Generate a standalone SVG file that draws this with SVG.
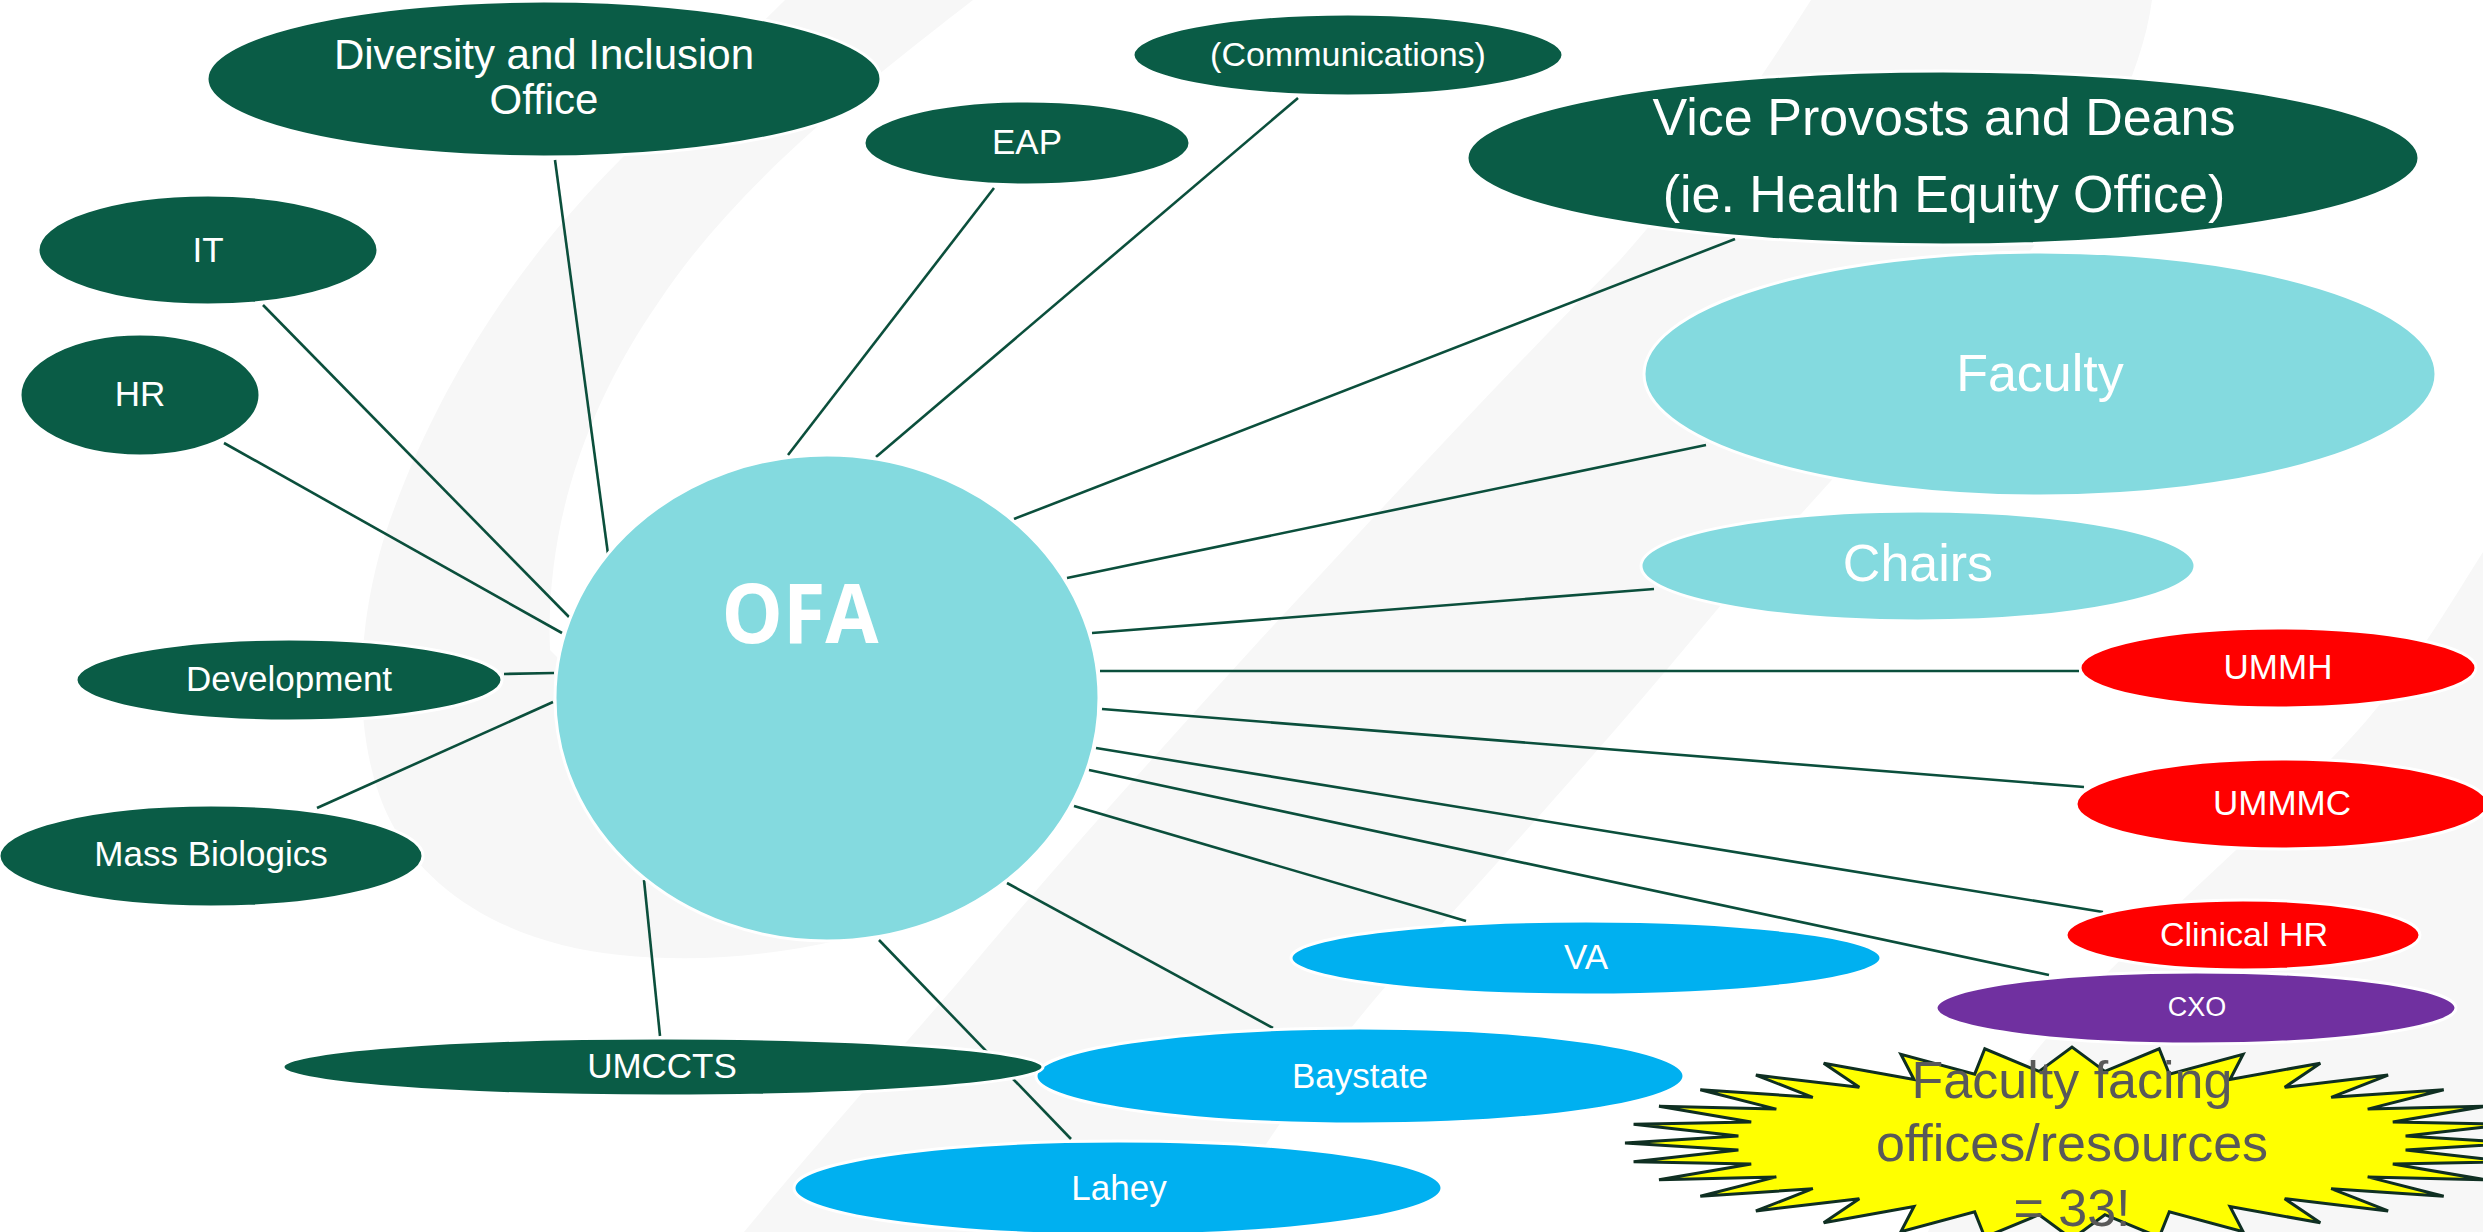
<svg xmlns="http://www.w3.org/2000/svg" width="2483" height="1232" viewBox="0 0 2483 1232">
<style>
.bg{fill:#f7f7f7;stroke:none}
.conn line{stroke:#0b4f3c;stroke-width:2.6}
.n{stroke:#ffffff;stroke-width:3}
.dg{fill:#0a5c46}
.cy{fill:#84dadf}
.rd{fill:#ff0000}
.bl{fill:#00b0f0}
.pu{fill:#7030a0}
text{font-family:"Liberation Sans",Arial,sans-serif;fill:#ffffff;text-anchor:middle}
.s35{font-size:35px}
.s52{font-size:52px}
.star{fill:#ffff00;stroke:#0f2f22;stroke-width:3;stroke-linejoin:miter}
.st{fill:#595959;font-size:52px}
</style>
<rect x="0" y="0" width="2483" height="1232" fill="#ffffff"/>
<g id="background">
<path class="bg" d="M785,0 L973,0 C870,80 740,180 660,300 C590,400 545,520 550,650 L840,940 C760,958 690,962 620,955 C520,945 430,900 390,820 C350,740 355,620 390,520 C440,380 520,260 620,160 C680,100 735,50 785,0 Z"/>
<path class="bg" d="M1811,0 L2152,0 C2140,90 2080,190 2000,290 C1900,410 1800,510 1700,630 C1600,750 1500,860 1400,970 C1320,1060 1260,1150 1210,1232 L744,1232 C820,1140 900,1050 960,980 C1060,860 1160,750 1260,640 C1380,510 1500,380 1620,260 C1700,170 1760,80 1811,0 Z"/>
<path class="bg" d="M2483,552 C2440,620 2400,690 2330,760 C2260,830 2180,900 2100,980 C2020,1060 1960,1150 1928,1232 L2483,1232 Z"/>
</g>
<g id="connectors" class="conn">
<line x1="555" y1="160" x2="608" y2="554"/>
<line x1="263" y1="305" x2="569" y2="617"/>
<line x1="224" y1="443" x2="562" y2="633"/>
<line x1="994" y1="188" x2="788" y2="455"/>
<line x1="1298" y1="98" x2="876" y2="457"/>
<line x1="1735" y1="239" x2="1014" y2="519"/>
<line x1="1706" y1="445" x2="1067" y2="578"/>
<line x1="1654" y1="589" x2="1092" y2="633"/>
<line x1="2079" y1="671" x2="1100" y2="671"/>
<line x1="2084" y1="787" x2="1102" y2="709"/>
<line x1="2103" y1="912" x2="1096" y2="748"/>
<line x1="2049" y1="975" x2="1089" y2="770"/>
<line x1="1466" y1="921" x2="1074" y2="806"/>
<line x1="1273" y1="1028" x2="1007" y2="883"/>
<line x1="1071" y1="1139" x2="879" y2="940"/>
<line x1="660" y1="1036" x2="644" y2="880"/>
<line x1="504" y1="674" x2="554" y2="673"/>
<line x1="317" y1="808" x2="553" y2="702"/>
</g>
<g id="ofa">
<ellipse class="n cy" cx="827" cy="698" rx="272" ry="243"/>
<text x="800" y="643" style="font-family:'Open Sans','Liberation Sans',sans-serif;font-weight:bold;font-size:82px" textLength="157" lengthAdjust="spacingAndGlyphs">OFA</text>
</g>
<g id="diversity">
<ellipse class="n dg" cx="544" cy="79" rx="337" ry="78"/>
<text x="544" y="69" style="font-size:42px">Diversity and Inclusion</text>
<text x="544" y="114" style="font-size:42px">Office</text>
</g>
<g id="communications">
<ellipse class="n dg" cx="1348" cy="55" rx="215" ry="41"/>
<text x="1348" y="66" style="font-size:34px">(Communications)</text>
</g>
<g id="eap">
<ellipse class="n dg" cx="1027" cy="143" rx="163" ry="42"/>
<text class="s35" x="1027" y="154">EAP</text>
</g>
<g id="viceprovosts">
<ellipse class="n dg" cx="1943" cy="158" rx="476" ry="87"/>
<text class="s52" x="1944" y="135">Vice Provosts and Deans</text>
<text class="s52" x="1944" y="212">(ie. Health Equity Office)</text>
</g>
<g id="it">
<ellipse class="n dg" cx="208" cy="250" rx="170" ry="55"/>
<text class="s35" x="208" y="262">IT</text>
</g>
<g id="hr">
<ellipse class="n dg" cx="140" cy="395" rx="120" ry="61"/>
<text class="s35" x="140" y="406">HR</text>
</g>
<g id="development">
<ellipse class="n dg" cx="289" cy="680" rx="213" ry="41"/>
<text class="s35" x="289" y="691">Development</text>
</g>
<g id="massbiologics">
<ellipse class="n dg" cx="211" cy="856" rx="212" ry="51"/>
<text class="s35" x="211" y="866">Mass Biologics</text>
</g>
<g id="faculty">
<ellipse class="n cy" cx="2040" cy="374" rx="396" ry="122"/>
<text class="s52" x="2040" y="391">Faculty</text>
</g>
<g id="chairs">
<ellipse class="n cy" cx="1918" cy="566" rx="277" ry="55"/>
<text class="s52" x="1918" y="581">Chairs</text>
</g>
<g id="ummh">
<ellipse class="n rd" cx="2278" cy="668" rx="198" ry="40"/>
<text class="s35" x="2278" y="679">UMMH</text>
</g>
<g id="ummmc">
<ellipse class="n rd" cx="2282" cy="804" rx="206" ry="45"/>
<text class="s35" x="2282" y="815">UMMMC</text>
</g>
<g id="clinicalhr">
<ellipse class="n rd" cx="2243" cy="935" rx="177" ry="35"/>
<text x="2244" y="946" style="font-size:34px">Clinical HR</text>
</g>
<g id="cxo">
<ellipse class="n pu" cx="2196" cy="1008" rx="260" ry="36"/>
<text x="2197" y="1016" style="font-size:27px">CXO</text>
</g>
<g id="va">
<ellipse class="n bl" cx="1586" cy="958" rx="295" ry="37"/>
<text class="s35" x="1586" y="969">VA</text>
</g>
<g id="baystate">
<ellipse class="n bl" cx="1360" cy="1076" rx="324" ry="48"/>
<text class="s35" x="1360" y="1088">Baystate</text>
</g>
<g id="lahey">
<ellipse class="n bl" cx="1118" cy="1188" rx="324" ry="47"/>
<text class="s35" x="1119" y="1200">Lahey</text>
</g>
<g id="umccts">
<ellipse class="n dg" cx="663" cy="1067" rx="380" ry="29"/>
<text class="s35" x="662" y="1078">UMCCTS</text>
</g>
<g id="starburst">
<polygon class="star" points="2519,1143 2405.6,1135.9 2510.4,1124.3 2392.8,1122.1 2485,1106.3 2367.7,1109.1 2443.7,1089.7 2331.2,1097.3 2388.1,1075.1 2284.7,1087.3 2320.3,1063.2 2230,1079.5 2243.1,1054.3 2169.3,1074.1 2159.2,1048.8 2104.9,1071.4 2072,1047 2039.1,1071.4 1984.8,1048.8 1974.7,1074.1 1900.9,1054.3 1914,1079.5 1823.7,1063.2 1859.3,1087.3 1755.9,1075.1 1812.8,1097.3 1700.3,1089.7 1776.3,1109.1 1659,1106.3 1751.2,1122.1 1633.6,1124.3 1738.4,1135.9 1625,1143 1738.4,1150.1 1633.6,1161.7 1751.2,1163.9 1659,1179.7 1776.3,1176.9 1700.3,1196.3 1812.8,1188.7 1755.9,1210.9 1859.3,1198.7 1823.7,1222.8 1914,1206.5 1900.9,1231.7 1974.7,1211.9 1984.8,1237.2 2039.1,1214.7 2072,1239 2104.9,1214.7 2159.2,1237.2 2169.3,1211.9 2243.1,1231.7 2230,1206.5 2320.3,1222.8 2284.7,1198.7 2388.1,1210.9 2331.2,1188.7 2443.7,1196.3 2367.7,1176.9 2485,1179.7 2392.8,1163.9 2510.4,1161.7 2405.6,1150.1"/>
<text class="st" x="2072" y="1098">Faculty facing</text>
<text class="st" x="2072" y="1161">offices/resources</text>
<text class="st" x="2072" y="1226">= 33!</text>
</g>
</svg>
